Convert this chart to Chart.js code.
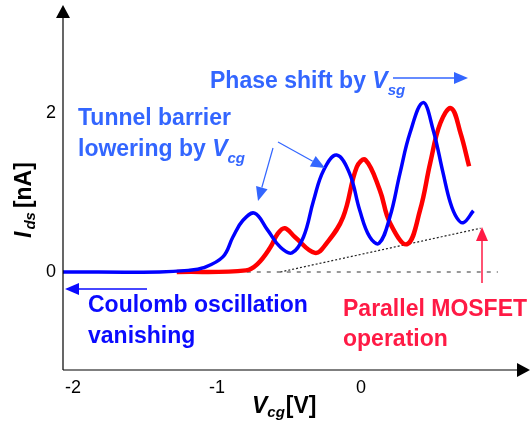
<!DOCTYPE html>
<html>
<head>
<meta charset="utf-8">
<script src="https://cdn.jsdelivr.net/npm/chart.js@4/dist/chart.umd.min.js"></script>
<style>
  html, body { margin: 0; padding: 0; background: #fff; }
  canvas { display: block; }
</style>
</head>
<body>
<canvas id="chart" width="531" height="429"></canvas>
<script>
// blue curve: Coulomb oscillation (x = Vcg [V], y = Ids [nA])
const blueX = [-2.07, -1.4, -1.2, -1.1, -0.96, -0.89, -0.82, -0.74, -0.65, -0.56, -0.48, -0.4, -0.33, -0.26, -0.17, -0.08, -0.01, 0.06, 0.125, 0.2, 0.27, 0.34, 0.43, 0.5, 0.57, 0.62, 0.665, 0.71, 0.78];
const blueY = [0, 0, 0.02, 0.05, 0.19, 0.44, 0.65, 0.74, 0.53, 0.31, 0.24, 0.44, 0.9, 1.28, 1.47, 1.24, 0.78, 0.44, 0.36, 0.69, 1.24, 1.75, 2.13, 1.79, 1.24, 0.87, 0.68, 0.62, 0.77];

// red curve: shifted oscillation
const redX = [-1.28, -0.8, -0.72, -0.63, -0.58, -0.53, -0.46, -0.32, -0.24, -0.125, -0.03, 0.03, 0.13, 0.2, 0.32, 0.41, 0.48, 0.55, 0.625, 0.69, 0.75];
const redY = [0, 0.02, 0.1, 0.31, 0.48, 0.55, 0.44, 0.24, 0.36, 0.69, 1.32, 1.41, 1.03, 0.62, 0.35, 0.78, 1.37, 1.87, 2.06, 1.75, 1.33];

// dotted parallel MOSFET background and zero line
const slopeX = [-0.56, 0.83];
const slopeY = [0, 0.55];
const zeroX = [-1.28, 0.95];
const zeroY = [0, 0];

const xTicks = [-2, -1, 0];
const yTicks = [0, 2];

const toPoints = (xs, ys) => xs.map((x, i) => ({ x: x, y: ys[i] }));

function arrow(ctx, x1, y1, x2, y2, color, lw, head, half) {
    const a = Math.atan2(y2 - y1, x2 - x1);
    const bx = x2 - head * Math.cos(a), by = y2 - head * Math.sin(a);
    ctx.strokeStyle = color;
    ctx.fillStyle = color;
    ctx.lineWidth = lw;
    ctx.beginPath();
    ctx.moveTo(x1, y1);
    ctx.lineTo(bx, by);
    ctx.stroke();
    ctx.beginPath();
    ctx.moveTo(x2, y2);
    ctx.lineTo(bx + half * Math.sin(a), by - half * Math.cos(a));
    ctx.lineTo(bx - half * Math.sin(a), by + half * Math.cos(a));
    ctx.closePath();
    ctx.fill();
}

// draws text pieces in a row: [text, font, dy, gap]
function richText(ctx, x, y, parts, color) {
    ctx.fillStyle = color;
    ctx.textAlign = 'left';
    ctx.textBaseline = 'alphabetic';
    parts.forEach(p => {
        ctx.font = p[1];
        ctx.fillText(p[0], x, y + (p[2] || 0));
        x += ctx.measureText(p[0]).width + (p[3] || 0);
    });
}

const FONT = 'Liberation Sans, Arial, sans-serif';
const BIG = 'bold 23px ' + FONT;
const BIGI = 'italic bold 23px ' + FONT;
const SUB = 'italic bold 15px ' + FONT;
const lightBlue = '#3366ff';
const blue = '#0a0aff';
const crimson = '#ff1a45';

const decor = {
    id: 'decor',
    afterDraw(chart) {
        const ctx = chart.ctx;
        const xs = chart.scales.x, ys = chart.scales.y;
        const area = chart.chartArea;
        ctx.save();

        // axes with arrowheads
        arrow(ctx, area.left, area.bottom, area.left, area.top - 3, '#000', 1.2, 13, 7);
        arrow(ctx, area.left, area.bottom, area.right, area.bottom, '#000', 1.2, 13, 7);

        // tick labels
        ctx.fillStyle = '#000';
        ctx.font = '18px ' + FONT;
        ctx.textBaseline = 'middle';
        ctx.textAlign = 'center';
        xTicks.forEach(v => ctx.fillText(String(v), xs.getPixelForValue(v), area.bottom + 18));
        ctx.textAlign = 'right';
        yTicks.forEach(v => ctx.fillText(String(v), 56, ys.getPixelForValue(v)));

        // axis titles
        richText(ctx, 252, 413, [
            ['V', BIGI],
            ['cg', SUB, 4, 1],
            ['[V]', BIG]
        ], '#000');
        ctx.save();
        ctx.translate(31, 238);
        ctx.rotate(-Math.PI / 2);
        richText(ctx, 0, 0, [
            ['I', BIGI, 0, 2],
            ['ds', SUB, 4, 4],
            ['[nA]', BIG]
        ], '#000');
        ctx.restore();

        // annotations
        richText(ctx, 210, 88, [
            ['Phase shift by ', BIG],
            ['V', BIGI],
            ['sg', SUB, 7]
        ], lightBlue);
        arrow(ctx, 393, 78, 468, 78, lightBlue, 1.5, 14, 6);

        richText(ctx, 78, 125, [['Tunnel barrier', BIG]], lightBlue);
        richText(ctx, 78, 156, [
            ['lowering by ', BIG],
            ['V', BIGI],
            ['cg', SUB, 7]
        ], lightBlue);
        arrow(ctx, 273, 148, 258, 201, lightBlue, 1.2, 14, 6);
        arrow(ctx, 278, 142, 325, 168, lightBlue, 1.2, 14, 6);

        richText(ctx, 88, 312, [['Coulomb oscillation', BIG]], blue);
        richText(ctx, 88, 343, [['vanishing', BIG]], blue);
        arrow(ctx, 147, 289, 65, 289, blue, 1.5, 14, 6);

        richText(ctx, 343, 316, [['Parallel MOSFET', BIG]], crimson);
        richText(ctx, 343, 346, [['operation', BIG]], crimson);
        arrow(ctx, 482, 283, 482, 227, crimson, 1.5, 14, 6);

        ctx.restore();
    }
};

new Chart(document.getElementById('chart'), {
    type: 'scatter',
    data: {
        datasets: [
            {
                data: toPoints(blueX, blueY),
                showLine: true,
                borderColor: '#0000ff',
                borderWidth: 3.5,
                pointRadius: 0,
                tension: 0.4
            },
            {
                data: toPoints(redX, redY),
                showLine: true,
                borderColor: '#ff0000',
                borderWidth: 4.5,
                pointRadius: 0,
                tension: 0.4
            },
            {
                data: toPoints(slopeX, slopeY),
                showLine: true,
                borderColor: '#222',
                borderWidth: 1.2,
                borderDash: [2, 2],
                pointRadius: 0
            },
            {
                data: toPoints(zeroX, zeroY),
                showLine: true,
                borderColor: '#777',
                borderWidth: 1.5,
                borderDash: [4, 6],
                pointRadius: 0
            }
        ]
    },
    options: {
        responsive: false,
        devicePixelRatio: 1,
        animation: false,
        layout: { padding: { left: 63, right: 1, top: 8, bottom: 59 } },
        plugins: { legend: { display: false }, tooltip: { enabled: false } },
        scales: {
            x: { type: 'linear', display: false, min: -2.07, max: 1.173 },
            y: { type: 'linear', display: false, min: -1.233, max: 3.32 }
        }
    },
    plugins: [decor]
});
</script>
</body>
</html>
